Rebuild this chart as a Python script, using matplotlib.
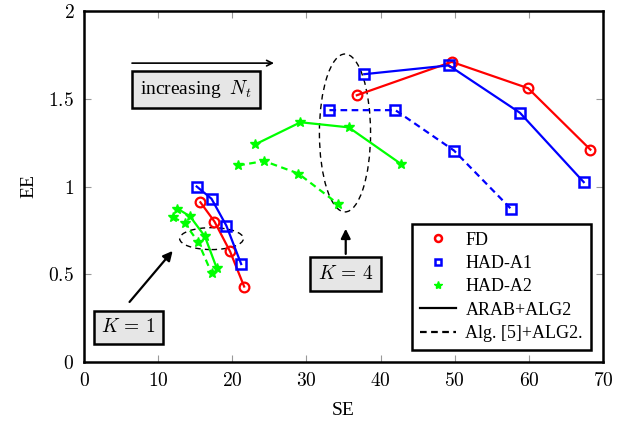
import matplotlib
matplotlib.use("Agg")
from matplotlib import pyplot as plt
from matplotlib.patches import Ellipse
from matplotlib.lines import Line2D

plt.rcParams['font.family'] = ['Liberation Serif', 'DejaVu Serif']
plt.rcParams['mathtext.fontset'] = 'cm'

# K = 1 group
fd_k1_se = [15.7, 17.6, 19.7, 21.6]
fd_k1_ee = [0.91, 0.80, 0.63, 0.43]
a1_k1_se = [15.2, 17.2, 19.2, 21.2]
a1_k1_ee = [1.00, 0.93, 0.777, 0.558]
a2_k1_se = [12.6, 14.3, 16.3, 17.9]
a2_k1_ee = [0.874, 0.83, 0.716, 0.535]
a2d_k1_se = [12.0, 13.6, 15.4, 17.2]
a2d_k1_ee = [0.825, 0.79, 0.684, 0.507]

# K = 4 group
fd_k4_se = [36.8, 49.6, 59.9, 68.3]
fd_k4_ee = [1.52, 1.71, 1.56, 1.21]
a1_k4_se = [37.8, 49.2, 58.8, 67.4]
a1_k4_ee = [1.64, 1.69, 1.42, 1.025]
a1d_k4_se = [33.1, 42.0, 49.9, 57.6]
a1d_k4_ee = [1.435, 1.435, 1.205, 0.872]
a2_k4_se = [23.1, 29.2, 35.7, 42.7]
a2_k4_ee = [1.24, 1.366, 1.337, 1.13]
a2d_k4_se = [20.8, 24.3, 28.9, 34.2]
a2d_k4_ee = [1.12, 1.145, 1.074, 0.903]

x_ticks = [0, 10, 20, 30, 40, 50, 60, 70]
y_ticks = [0, 0.5, 1, 1.5, 2]

fig = plt.figure(figsize=(6.33, 4.24), dpi=100)
ax = fig.add_axes([84/633, 62/424, 519/633, 351/424])

red = '#ff0000'
blue = '#0000ff'
green = '#00ff00'
lw = 1.6
dash = (0, (3, 2))

def circ(x, y, ls):
    ax.plot(x, y, color=red, lw=lw, ls=ls, marker='o', ms=7, mfc='none', mec=red, mew=1.6)

def sq(x, y, ls):
    ax.plot(x, y, color=blue, lw=lw, ls=ls, marker='s', ms=7, mfc='none', mec=blue, mew=1.8)

def star(x, y, ls):
    ax.plot(x, y, color=green, lw=lw, ls=ls, marker='*', ms=7.5, mfc=green, mec=green)

circ(fd_k1_se, fd_k1_ee, '-')
sq(a1_k1_se, a1_k1_ee, '-')
star(a2_k1_se, a2_k1_ee, '-')
star(a2d_k1_se, a2d_k1_ee, dash)

circ(fd_k4_se, fd_k4_ee, '-')
sq(a1_k4_se, a1_k4_ee, '-')
sq(a1d_k4_se, a1d_k4_ee, dash)
star(a2_k4_se, a2_k4_ee, '-')
star(a2d_k4_se, a2d_k4_ee, dash)

# ellipses
ax.add_patch(Ellipse((17.2, 0.703), 8.6, 0.125, fill=False, ec='black', lw=1.0, ls=(0, (4, 3))))
ax.add_patch(Ellipse((35.2, 1.305), 6.9, 0.90, fill=False, ec='black', lw=1.0, ls=(0, (4, 3))))

# annotations
box = dict(boxstyle='square,pad=0.4', fc='#e6e6e6', ec='black', lw=1.8)
ax.annotate('', xy=(26.0, 1.703), xytext=(6.1, 1.703),
            arrowprops=dict(arrowstyle='->', color='black', lw=1.2))
ax.text(15.1, 1.553, r'increasing  $N_t$', fontsize=14, ha='center', va='center', bbox=box)

ax.annotate('', xy=(12.2, 0.645), xytext=(5.9, 0.33),
            arrowprops=dict(arrowstyle='-|>', color='black', lw=1.6, mutation_scale=14))
ax.text(6.0, 0.197, r'$K\,=\,1$', fontsize=14, ha='center', va='center', bbox=box)

ax.annotate('', xy=(35.3, 0.775), xytext=(35.3, 0.60),
            arrowprops=dict(arrowstyle='-|>', color='black', lw=1.6, mutation_scale=14))
ax.text(35.3, 0.503, r'$K\,=\,4$', fontsize=14, ha='center', va='center', bbox=box)

ax.set_xlim(0, 70)
ax.set_ylim(0, 2)
ax.set_xticks(x_ticks)
ax.set_yticks(y_ticks)
ax.set_xticklabels(['$%g$' % v for v in x_ticks], fontsize=14)
ax.set_yticklabels(['$%g$' % v for v in y_ticks], fontsize=14)
ax.tick_params(direction='in', length=5, color='#999999', top=True, right=True, pad=7)
for s in ax.spines.values():
    s.set_linewidth(1.8)
ax.set_xlabel('SE', fontsize=14, labelpad=9)
ax.set_ylabel('EE', fontsize=14, labelpad=8)

handles = [
    Line2D([], [], ls='none', marker='o', ms=5, mfc='none', mec=red, mew=1.8),
    Line2D([], [], ls='none', marker='s', ms=5, mfc='none', mec=blue, mew=1.8),
    Line2D([], [], ls='none', marker='*', ms=6, mfc=green, mec=green),
    Line2D([], [], color='black', lw=lw),
    Line2D([], [], color='black', lw=lw, ls=dash),
]
labels = ['FD', 'HAD-A1', 'HAD-A2', 'ARAB+ALG2', 'Alg. [5]+ALG2.']
leg = ax.legend(handles, labels, loc='lower right', fontsize=13, fancybox=False,
                edgecolor='black', framealpha=1, handlelength=2.0, borderpad=0.45,
                labelspacing=0.35, handletextpad=0.5, borderaxespad=0,
                bbox_to_anchor=(0.977, 0.034))
leg.get_frame().set_linewidth(1.8)

fig.savefig('out.png', dpi=100)
